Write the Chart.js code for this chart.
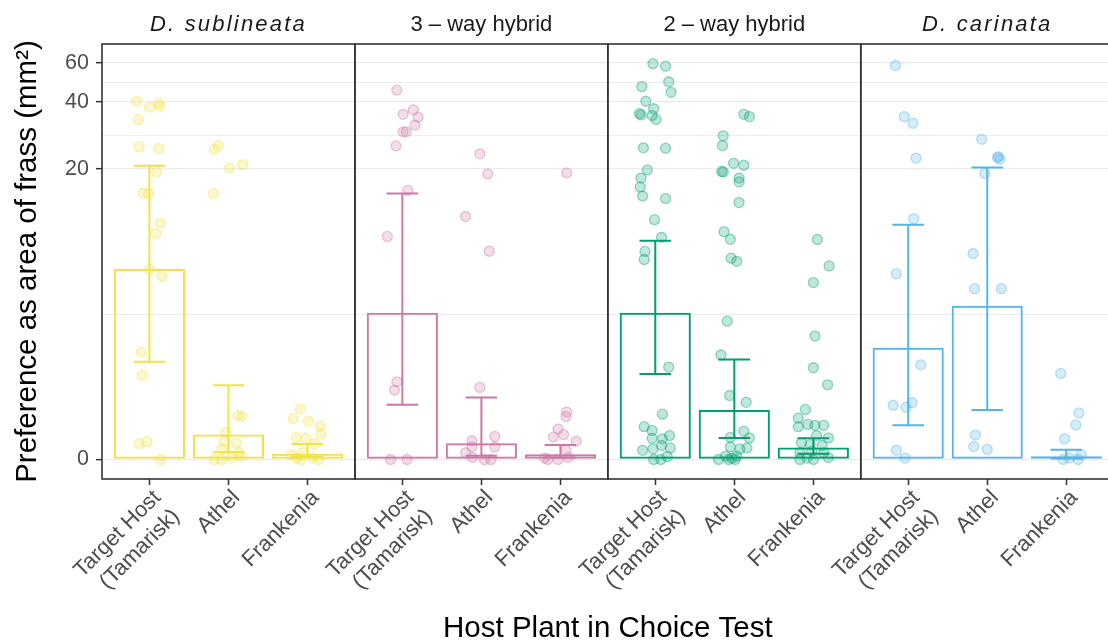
<!DOCTYPE html>
<html>
<head>
<meta charset="utf-8">
<script src="https://cdn.jsdelivr.net/npm/chart.js@4.4.1/dist/chart.umd.min.js"></script>
<style>
  html, body { margin: 0; padding: 0; background: #fff; overflow: hidden; }
  /* the last panel runs a few pixels past the right edge, as in the original */
  #frassChart { display: block; }
</style>
</head>
<body>
<canvas id="frassChart" width="1120" height="644"></canvas>
<script>
// facets (strip labels) and host plants (x categories)
var species = ['D. sublineata', '3 \u2013 way hybrid', '2 \u2013 way hybrid', 'D. carinata'];
var italicStrip = [true, false, false, true];
var hosts = [['Target Host', '(Tamarisk)'], 'Athel', 'Frankenia'];
var yBreaks = [0, 20, 40, 60];

// bar height and error bar ends (mm^2), one row per facet, columns = hosts
var meanArea = [
  [7.0, 0.52, 0.12],
  [4.33, 0.34, 0.11],
  [4.33, 1.07, 0.25],
  [2.85, 4.68, 0.07]
];
var errLow = [
  [2.38, 0.15, 0.05],
  [1.19, 0.08, 0.04],
  [2.0, 0.45, 0.12],
  [0.72, 1.07, 0.02]
];
var errHigh = [
  [20.7, 1.69, 0.32],
  [15.5, 1.37, 0.30],
  [9.45, 2.45, 0.44],
  [11.2, 20.3, 0.20]
];

// raw observations per facet: [target, athel, frankenia]
var areaSub = [
  [40.3, 37.9, 39.4, 38.3, 33.3, 25.2, 24.7, 19.4, 15.5, 15.5, 11.4, 10.2, 6.96, 6.46, 2.7, 1.96, 0.33, 0.37, 0],
  [24.5, 25.5, 20.2, 20.9, 15.5, 0.94, 0.92, 0.57, 0.35, 0.38, 0.22, 0, 0, 0.03, 0.14, 0.06],
  [1.09, 0.87, 0.81, 0.70, 0.54, 0.46, 0.44, 0.33, 0.10, 0.14, 0, 0.04, 0, 0.03]
];
var area3way = [
  [45.2, 35.2, 36.9, 34.2, 31.5, 29.4, 29.4, 25.4, 16.0, 9.9, 1.78, 1.56, 0, 0],
  [23.4, 19.0, 12.2, 8.46, 1.63, 0.39, 0.48, 0.26, 0.26, 0.14, 0.04, 0, 0],
  [19.2, 1.02, 0.92, 0.64, 0.47, 0.52, 0.38, 0.19, 0, 0, 0.04, 0.03]
];
var area2way = [
  [59.4, 57.9, 46.9, 49.3, 44.2, 40.3, 37.3, 35.5, 35.0, 34.8, 33.4, 24.9, 24.8, 19.8, 18.2, 16.6, 15.1, 14.7,
   11.8, 9.8, 8.45, 7.75, 2.21, 0.97, 0.69, 0.61, 0.50, 0.43, 0.44, 0.24, 0.19, 0.22, 0.29, 0, 0, 0.06],
  [35.2, 34.4, 28.2, 25.5, 21.2, 20.8, 19.5, 19.4, 18.2, 17.5, 14.1, 10.4, 9.6, 7.86, 7.6, 3.93, 2.6, 1.42,
   1.25, 0.59, 0.45, 0.46, 0.24, 0.26, 0.22, 0, 0.07, 0.03, 0.07, 0, 0],
  [9.58, 7.24, 6.05, 3.3, 2.19, 1.7, 1.08, 0.88, 0.69, 0.74, 0.72, 0.72, 0.50, 0.45, 0.35, 0.31, 0.29, 0.14,
   0.17, 0.14, 0, 0, 0.04, 0.03]
];
var areaCar = [
  [58.3, 34.4, 32.1, 22.4, 11.9, 6.66, 2.28, 1.18, 1.13, 1.24, 0.19, 0.03],
  [27.2, 22.7, 22.1, 22.5, 19.1, 8.26, 5.66, 5.66, 0.51, 0.27, 0.21],
  [2.02, 1.0, 0.73, 0.43, 0, 0.03, 0, 0.10]
];

// horizontal jitter of each observation, in category units
var jitterSub = [
  [-0.16, 0, 0.12, 0.13, -0.14, -0.13, 0.12, 0.09, -0.08, -0.01, 0.14, 0.08, 0, 0.16, -0.10, -0.09, -0.13, -0.03, 0.14],
  [-0.18, -0.13, 0.01, 0.18, -0.19, 0.12, 0.17, -0.03, 0.10, -0.05, -0.08, -0.18, -0.09, 0.04, 0.13, 0.16],
  [-0.09, -0.18, 0.01, 0.16, 0.17, -0.14, -0.02, 0.09, -0.2, -0.06, -0.08, 0.07, 0.14, -0.14]
];
var jitter3way = [
  [-0.07, 0.01, 0.14, 0.2, 0.16, 0.01, 0.05, -0.08, 0.07, -0.19, -0.07, -0.1, -0.15, 0.06],
  [-0.02, 0.08, -0.2, 0.1, -0.02, -0.12, 0.17, 0.17, -0.12, -0.2, -0.11, 0.04, 0.12],
  [0.08, 0.08, 0.07, -0.03, -0.09, 0.04, 0.2, 0.07, -0.16, -0.03, 0.1, -0.2]
];
var jitter2way = [
  [-0.03, 0.13, -0.17, 0.17, 0.2, -0.12, -0.02, -0.2, -0.18, -0.04, 0.01, -0.15, 0.13, -0.1, -0.18, -0.19, -0.16, 0.13,
   -0.01, 0.08, -0.13, -0.14, 0.17, 0.09, -0.14, -0.04, 0.18, 0.09, -0.04, 0.19, -0.16, -0.03, 0.08, -0.02, 0.07, 0.15],
  [0.12, 0.19, -0.14, -0.15, -0.01, 0.12, -0.16, -0.14, 0.06, 0.06, 0.06, -0.13, -0.05, -0.04, 0.03, -0.09, -0.17, -0.06,
   0.15, 0.12, 0.19, -0.05, 0.16, -0.05, 0.07, -0.2, -0.11, -0.03, 0.03, -0.07, 0.01],
  [0.05, 0.2, 0, 0.02, 0, 0.18, -0.1, -0.19, -0.19, -0.07, 0.02, 0.13, 0.04, 0.19, -0.15, -0.04, 0.11, -0.17,
   -0.02, 0.13, -0.17, 0, 0.19, -0.08]
];
var jitterCar = [
  [-0.16, -0.05, 0.06, 0.1, 0.07, -0.15, 0.16, -0.19, -0.03, 0.05, -0.15, -0.04],
  [-0.07, 0.14, 0.16, 0.13, -0.03, -0.18, -0.16, 0.18, -0.15, -0.17, 0],
  [-0.07, 0.16, 0.12, -0.02, -0.04, 0.04, 0.15, 0.19]
];

var areaObs = [areaSub, area3way, area2way, areaCar];
var jitterObs = [jitterSub, jitter3way, jitter2way, jitterCar];
var facetColors = ['240,228,66', '204,121,167', '0,158,115', '86,180,233'];

// y axis uses a pseudo-log transform (asinh(v / 2)), as in the original plot
function T(v) { return Math.asinh(v / 2); }

// each facet spans 3.2 units on the shared x axis (0.6 padding either side)
var panelSpan = 3.2, panelPad = 0.6, capHalf = 0.2;
function xPos(f, h) { return f * panelSpan + panelPad + h; }

var xTickVals = [];
for (var f = 0; f < species.length; f++) {
  for (var h = 0; h < hosts.length; h++) xTickVals.push(xPos(f, h));
}

var yMajor = yBreaks.map(T);
var yGrid = [];
for (var i = 0; i < yMajor.length; i++) {
  yGrid.push(yMajor[i]);
  if (i < yMajor.length - 1) yGrid.push((yMajor[i] + yMajor[i + 1]) / 2);
}
function majorLabel(v) {
  for (var k = 0; k < yMajor.length; k++) {
    if (Math.abs(yMajor[k] - v) < 1e-9) return String(yBreaks[k]);
  }
  return null;
}

var datasets = [];
species.forEach(function (name, f) {
  var rgb = facetColors[f];
  datasets.push({
    type: 'bar',
    label: name,
    data: hosts.map(function (hst, h) { return { x: xPos(f, h), y: T(meanArea[f][h]) }; }),
    backgroundColor: 'rgba(255,255,255,0)',
    borderColor: 'rgb(' + rgb + ')',
    borderWidth: 2,
    borderSkipped: false,
    grouped: false,
    categoryPercentage: 1,
    barPercentage: 0.9,
    order: 3
  });

  var err = [];
  hosts.forEach(function (hst, h) {
    var cx = xPos(f, h), lo = T(errLow[f][h]), hi = T(errHigh[f][h]);
    err.push({ x: cx - capHalf, y: hi }, { x: cx + capHalf, y: hi }, { x: cx, y: hi },
             { x: cx, y: lo }, { x: cx - capHalf, y: lo }, { x: cx + capHalf, y: lo },
             { x: cx, y: null });
  });
  datasets.push({
    type: 'line',
    label: name + ' se',
    data: err,
    borderColor: 'rgb(' + rgb + ')',
    borderWidth: 2,
    pointRadius: 0,
    spanGaps: false,
    fill: false,
    tension: 0,
    order: 2
  });

  var pts = [];
  areaObs[f].forEach(function (vals, h) {
    vals.forEach(function (v, k) {
      pts.push({ x: xPos(f, h) + jitterObs[f][h][k], y: T(v) });
    });
  });
  datasets.push({
    type: 'scatter',
    label: name + ' obs',
    data: pts,
    backgroundColor: 'rgba(' + rgb + ',0.25)',
    borderColor: 'rgba(' + rgb + ',0.4)',
    borderWidth: 1.3,
    pointRadius: 5,
    order: 1
  });
});

// panel borders and facet strip labels
var facetPlugin = {
  id: 'facets',
  afterDraw: function (chart) {
    var ctx = chart.ctx, area = chart.chartArea, xs = chart.scales.x;
    ctx.save();
    ctx.strokeStyle = '#333333';
    ctx.lineWidth = 1.6;
    for (var f = 0; f < species.length; f++) {
      var x0 = xs.getPixelForValue(f * panelSpan);
      var x1 = xs.getPixelForValue((f + 1) * panelSpan);
      ctx.strokeRect(x0, area.top, x1 - x0, area.bottom - area.top);

      ctx.fillStyle = '#1A1A1A';
      ctx.textAlign = 'center';
      ctx.textBaseline = 'alphabetic';
      ctx.font = (italicStrip[f] ? 'italic ' : '') + "22px 'Liberation Sans', Arial, sans-serif";
      ctx.letterSpacing = italicStrip[f] ? '2.2px' : '0px';
      ctx.fillText(species[f], (x0 + x1) / 2, area.top - 13.5);
    }
    ctx.restore();
  }
};

Chart.defaults.font.family = "'Liberation Sans', Arial, sans-serif";

new Chart(document.getElementById('frassChart').getContext('2d'), {
  type: 'bar',
  data: { datasets: datasets },
  plugins: [facetPlugin],
  options: {
    responsive: false,
    animation: false,
    devicePixelRatio: 1,
    events: [],
    layout: { padding: { top: 44, left: 0, right: 4, bottom: 0 } },
    plugins: { legend: { display: false }, tooltip: { enabled: false } },
    scales: {
      x: {
        type: 'linear',
        min: 0,
        max: 12.8,
        offset: false,
        afterBuildTicks: function (scale) {
          scale.ticks = xTickVals.map(function (v) { return { value: v }; });
        },
        afterFit: function (scale) {
          scale.height = 165;
          scale.paddingLeft = 0;
          scale.paddingRight = 0;
        },
        ticks: {
          autoSkip: false,
          minRotation: 45,
          maxRotation: 45,
          padding: 0,
          labelOffset: 8,
          color: '#4D4D4D',
          font: { size: 22 },
          callback: function (value, index) { return hosts[index % hosts.length]; }
        },
        grid: {
          offset: false,
          drawOnChartArea: false,
          drawTicks: true,
          tickLength: 6,
          tickColor: '#333333',
          tickWidth: 1.5
        },
        border: { display: false },
        title: {
          display: true,
          text: 'Host Plant in Choice Test',
          color: '#000000',
          font: { size: 29.5, lineHeight: 1 },
          padding: { top: 0, bottom: 0 }
        }
      },
      y: {
        type: 'linear',
        min: -0.201,
        max: 4.288,
        afterBuildTicks: function (scale) {
          scale.ticks = yGrid.map(function (v) { return { value: v }; });
        },
        afterFit: function (scale) { scale.width = 102; },
        ticks: {
          padding: 7,
          color: '#4D4D4D',
          font: { size: 21.5 },
          callback: function (value) { var l = majorLabel(value); return l === null ? '' : l; }
        },
        grid: {
          color: '#EBEBEB',
          lineWidth: function (c) { return majorLabel(c.tick.value) === null ? 0.9 : 1.3; },
          tickColor: function (c) { return majorLabel(c.tick.value) === null ? 'rgba(0,0,0,0)' : '#333333'; },
          tickLength: 6,
          tickWidth: 1.5
        },
        border: { display: false },
        title: {
          display: true,
          text: 'Preference as area of frass (mm\u00B2)',
          color: '#000000',
          font: { size: 29.5, lineHeight: 1.2 },
          padding: { top: 10, bottom: 0 }
        }
      }
    }
  }
});
</script>
</body>
</html>
